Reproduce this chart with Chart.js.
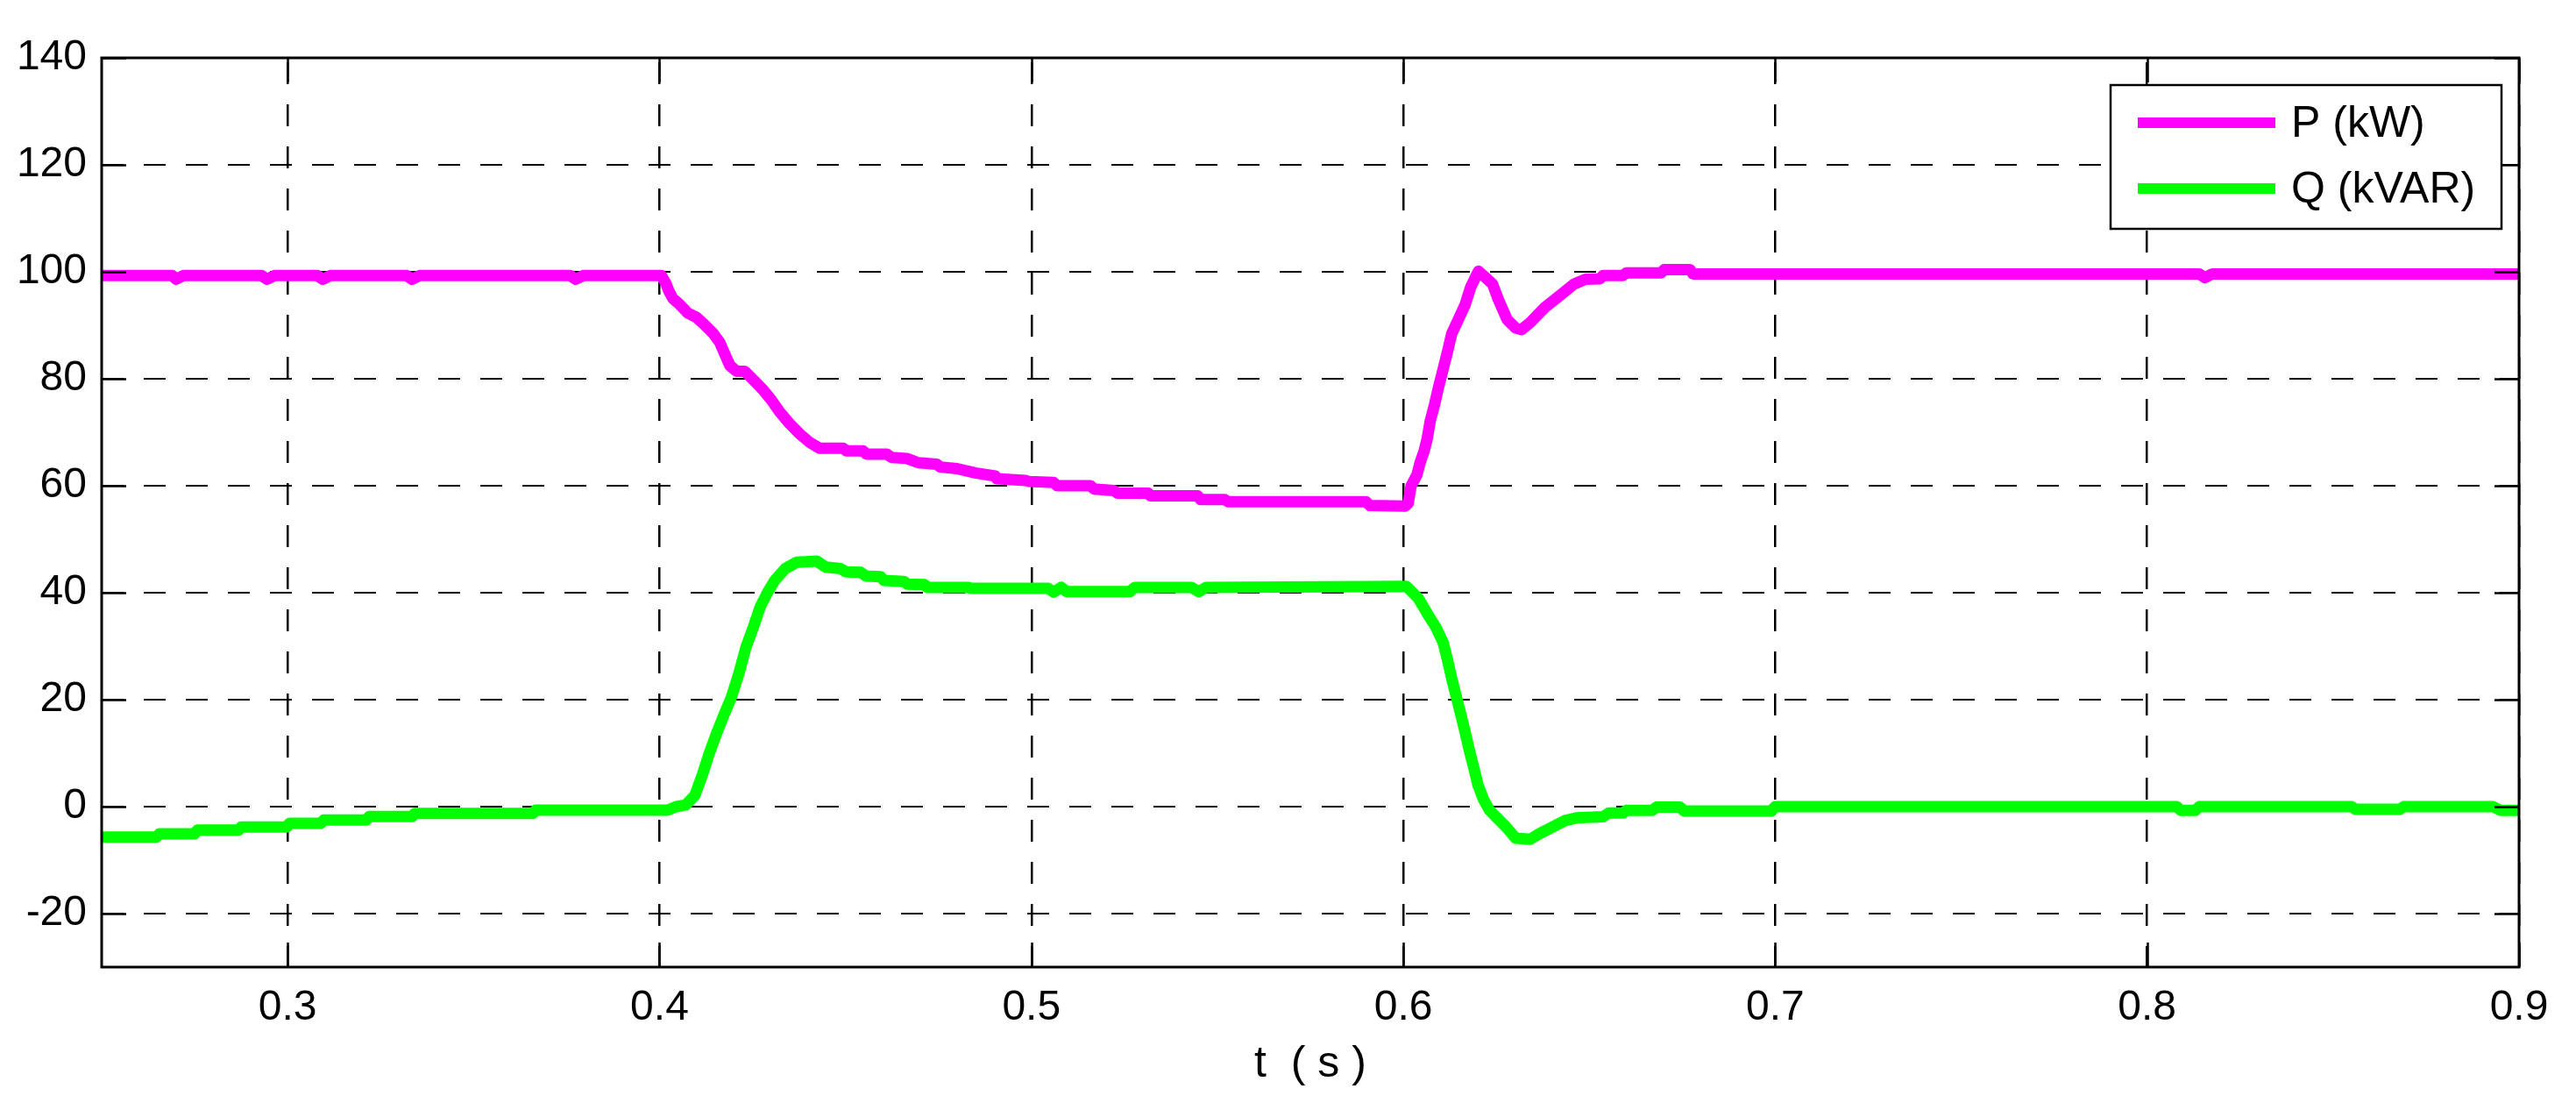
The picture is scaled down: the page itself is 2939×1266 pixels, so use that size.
<!DOCTYPE html>
<html>
<head>
<meta charset="utf-8">
<script src="https://cdn.jsdelivr.net/npm/chart.js@4.4.1/dist/chart.umd.min.js"></script>
<style>
  html, body { margin: 0; padding: 0; background: #fff; }
  #grafica { display: block; }
</style>
</head>
<body>
<canvas id="grafica" width="2939" height="1266"></canvas>
<script>
// Tiempo (s) y potencia activa P (kW)
const pTiempo = [0.25, 0.269, 0.270, 0.272, 0.293, 0.2945, 0.2965, 0.308, 0.3095, 0.3115,
  0.332, 0.3335, 0.3355, 0.376, 0.3775, 0.3795, 0.4005, 0.4018, 0.4025, 0.4036,
  0.4054, 0.4076, 0.4099, 0.4121, 0.4144, 0.4162, 0.4175, 0.4189, 0.4207, 0.4229,
  0.4252, 0.4279, 0.4301, 0.4323, 0.4350, 0.4377, 0.4404, 0.4431, 0.4494, 0.4503,
  0.4548, 0.4557, 0.4611, 0.4624, 0.4665, 0.4696, 0.4746, 0.4755, 0.4800, 0.4849,
  0.4903, 0.4907, 0.4984, 0.4993, 0.5060, 0.5069, 0.5159, 0.5168, 0.5222, 0.5231,
  0.5314, 0.5320, 0.5447, 0.5455, 0.5520, 0.5530, 0.5900, 0.5910, 0.6005, 0.6013,
  0.6021, 0.6037, 0.6045, 0.6056, 0.6064, 0.6072, 0.6084, 0.6095, 0.6107, 0.6119,
  0.6130, 0.6150, 0.6166, 0.6181, 0.6202, 0.6220, 0.6240, 0.6255, 0.6279, 0.6302,
  0.6318, 0.6341, 0.6380, 0.6420, 0.6459, 0.6490, 0.6529, 0.6537, 0.6591, 0.6599,
  0.6693, 0.6701, 0.6771, 0.6779, 0.8140, 0.8155, 0.8175, 0.9];
const pValores = [99.3, 99.3, 98.6, 99.3, 99.3, 98.6, 99.3, 99.3, 98.6, 99.3,
  99.3, 98.6, 99.3, 99.3, 98.6, 99.3, 99.3, 97.7, 96.4, 95.0,
  93.9, 92.3, 91.5, 90.1, 88.5, 86.8, 84.7, 82.5, 81.4, 81.4,
  79.8, 77.9, 76.0, 73.8, 71.6, 69.7, 68.1, 67.0, 67.0, 66.5,
  66.5, 65.9, 65.9, 65.3, 65.1, 64.3, 64.0, 63.5, 63.2, 62.4,
  61.8, 61.3, 61.0, 60.8, 60.6, 60.0, 60.0, 59.4, 59.1, 58.6,
  58.6, 58.1, 58.1, 57.4, 57.4, 57.0, 57.0, 56.3, 56.2, 56.7,
  60.0, 62.1, 64.3, 66.5, 68.7, 72.0, 75.2, 78.5, 81.8, 85.1,
  88.4, 91.4, 93.8, 97.1, 100.1, 99.0, 97.7, 94.9, 91.1, 89.5,
  89.2, 90.5, 93.3, 95.5, 97.7, 98.6, 98.7, 99.3, 99.3, 99.8,
  99.8, 100.4, 100.4, 99.6, 99.6, 98.9, 99.6, 99.6];

// Tiempo (s) y potencia reactiva Q (kVAR)
const qTiempo = [0.25, 0.2648, 0.2655, 0.2750, 0.2757, 0.2868, 0.2875, 0.2998, 0.3005, 0.3090,
  0.3097, 0.3212, 0.3219, 0.3335, 0.3342, 0.3660, 0.3667, 0.4022, 0.4045, 0.4070,
  0.4095, 0.4115, 0.4134, 0.4154, 0.4173, 0.4193, 0.4213, 0.4232, 0.4252, 0.4271,
  0.4291, 0.4310, 0.4338, 0.4369, 0.4423, 0.4447, 0.4486, 0.4502, 0.4541, 0.4556,
  0.4595, 0.4603, 0.4658, 0.4666, 0.4713, 0.4720, 0.4830, 0.4838, 0.5045, 0.5060,
  0.5080, 0.5095, 0.5265, 0.5278, 0.5430, 0.5450, 0.5470, 0.6008, 0.6040, 0.6068,
  0.6088, 0.6107, 0.6119, 0.6130, 0.6142, 0.6154, 0.6166, 0.6177, 0.6189, 0.6201,
  0.6216, 0.6232, 0.6255, 0.6279, 0.6302, 0.6341, 0.6365, 0.6396, 0.6435, 0.6466,
  0.6537, 0.6552, 0.6591, 0.6599, 0.6669, 0.6681, 0.6744, 0.6755, 0.6990, 0.7000,
  0.8080, 0.8090, 0.8130, 0.8140, 0.8550, 0.8560, 0.8680, 0.8690, 0.8930, 0.8950, 0.9];
const qValores = [-5.7, -5.7, -5.1, -5.1, -4.4, -4.4, -3.8, -3.8, -3.1, -3.1,
  -2.5, -2.5, -1.85, -1.85, -1.25, -1.25, -0.65, -0.65, 0.0, 0.3,
  2.1, 5.9, 10.0, 13.8, 17.1, 20.4, 24.8, 29.7, 33.5, 37.4,
  40.1, 42.3, 44.5, 45.7, 45.9, 44.8, 44.5, 43.9, 43.8, 43.1,
  43.0, 42.3, 42.1, 41.6, 41.5, 41.0, 41.0, 40.8, 40.8, 40.1,
  41.0, 40.2, 40.2, 41.0, 41.0, 40.2, 41.0, 41.2, 39.0, 35.7,
  33.5, 30.7, 27.4, 24.0, 20.7, 17.4, 14.0, 10.7, 7.4, 4.0,
  1.3, -0.7, -2.3, -4.0, -5.9, -6.1, -5.1, -4.0, -2.6, -2.1,
  -1.9, -1.2, -1.2, -0.7, -0.7, -0.1, -0.1, -0.8, -0.8, 0.0,
  0.0, -0.7, -0.7, 0.0, 0.0, -0.5, -0.5, 0.0, 0.0, -0.7, -0.7];

// Marcas de los ejes
const ticksX = [0.3, 0.4, 0.5, 0.6, 0.7, 0.8, 0.9];
const ticksY = [-20, 0, 20, 40, 60, 80, 100, 120, 140];

const fuente = '"Liberation Sans", Arial, Helvetica, sans-serif';

// Marco, marcas interiores y leyenda al estilo MATLAB
const marcoYLeyenda = {
  id: 'marcoYLeyenda',
  afterDraw(chart) {
    const ctx = chart.ctx;
    const a = chart.chartArea;
    const sx = chart.scales.x, sy = chart.scales.y;
    const largo = 28;
    ctx.save();
    ctx.strokeStyle = '#000';
    ctx.lineWidth = 2.5;
    ctx.setLineDash([]);
    ctx.beginPath();
    ticksX.forEach(v => {
      const px = Math.round(sx.getPixelForValue(v)) + 0.5;
      ctx.moveTo(px, a.bottom); ctx.lineTo(px, a.bottom - largo);
      ctx.moveTo(px, a.top); ctx.lineTo(px, a.top + largo);
    });
    ticksY.forEach(v => {
      const py = Math.round(sy.getPixelForValue(v)) + 0.5;
      ctx.moveTo(a.left, py); ctx.lineTo(a.left + largo, py);
      ctx.moveTo(a.right, py); ctx.lineTo(a.right - largo, py);
    });
    ctx.stroke();
    ctx.lineWidth = 3;
    ctx.strokeRect(a.left, a.top, a.right - a.left, a.bottom - a.top);

    // Leyenda
    const caja = { x: 2408, y: 97, w: 446, h: 164 };
    ctx.fillStyle = '#fff';
    ctx.fillRect(caja.x, caja.y, caja.w, caja.h);
    ctx.lineWidth = 2.5;
    ctx.strokeRect(caja.x, caja.y, caja.w, caja.h);
    ctx.font = '50px ' + fuente;
    ctx.textBaseline = 'middle';
    ctx.textAlign = 'left';
    chart.data.datasets.forEach((ds, i) => {
      const yc = caja.y + 43 + i * 75;
      ctx.strokeStyle = ds.borderColor;
      ctx.lineWidth = 12;
      ctx.beginPath();
      ctx.moveTo(2439, yc); ctx.lineTo(2596, yc);
      ctx.stroke();
      ctx.fillStyle = '#000';
      ctx.fillText(ds.label, 2614, yc + 2);
    });
    ctx.restore();
  }
};

const ctx = document.getElementById('grafica').getContext('2d');
new Chart(ctx, {
  type: 'line',
  data: {
    datasets: [{
      label: 'P (kW)',
      data: pTiempo.map((t, i) => ({ x: t, y: pValores[i] })),
      borderColor: '#ff00ff',
      borderWidth: 13,
      pointRadius: 0,
      borderJoinStyle: 'round',
      tension: 0,
      fill: false
    }, {
      label: 'Q (kVAR)',
      data: qTiempo.map((t, i) => ({ x: t, y: qValores[i] })),
      borderColor: '#00ff00',
      borderWidth: 13,
      pointRadius: 0,
      borderJoinStyle: 'round',
      tension: 0,
      fill: false
    }]
  },
  options: {
    responsive: false,
    devicePixelRatio: 1,
    animation: false,
    layout: { padding: { top: 66, right: 65, left: 0, bottom: 0 } },
    plugins: {
      legend: { display: false },
      tooltip: { enabled: false }
    },
    scales: {
      x: {
        type: 'linear',
        min: 0.25,
        max: 0.9,
        afterBuildTicks: s => { s.ticks = ticksX.map(v => ({ value: v })); },
        afterFit: s => { s.height = 163; },
        grid: { color: '#000', lineWidth: 2.5, drawTicks: false },
        border: { display: false, dash: [25, 23], dashOffset: 43 },
        ticks: {
          color: '#000',
          font: { family: fuente, size: 48 },
          padding: 18,
          maxRotation: 0,
          callback: v => String(v)
        },
        title: {
          display: true,
          text: 't  ( s )',
          color: '#000',
          font: { family: fuente, size: 50 },
          padding: { top: 0, bottom: 22 }
        }
      },
      y: {
        min: -30,
        max: 140,
        afterBuildTicks: s => { s.ticks = ticksY.map(v => ({ value: v })); },
        afterFit: s => { s.width = 116; },
        grid: { color: '#000', lineWidth: 2, drawTicks: false },
        border: { display: false, dash: [25, 23] },
        ticks: {
          color: '#000',
          font: { family: fuente, size: 48 },
          padding: 17
        }
      }
    }
  },
  plugins: [marcoYLeyenda]
});
</script>
</body>
</html>
